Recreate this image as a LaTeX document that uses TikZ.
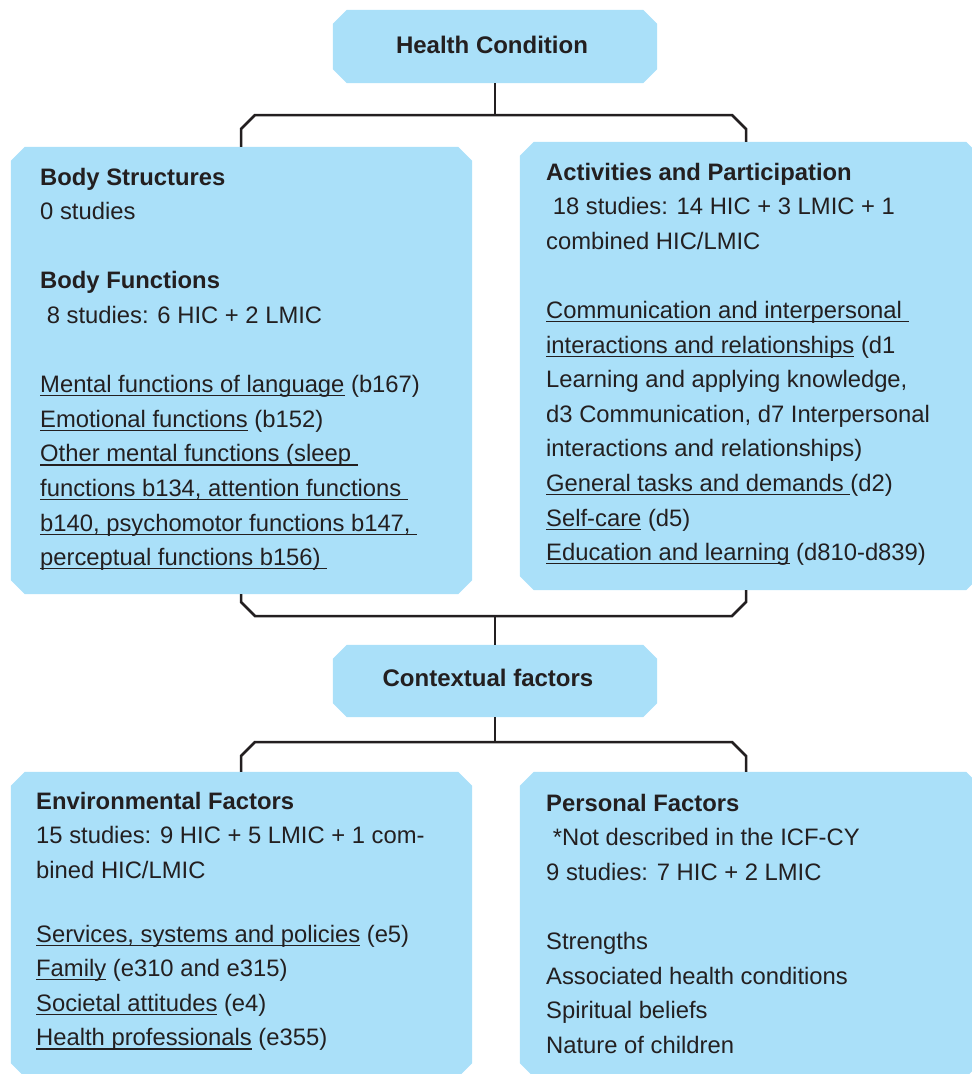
\documentclass[tikz,border=0pt]{standalone}
\usepackage{fontspec}
\setmainfont{Liberation Sans}
\definecolor{boxblue}{RGB}{170,224,249}
\definecolor{ink}{RGB}{35,31,32}
\newcommand\ulx[1]{\setbox0\hbox{#1}\rlap{\rule[-3.8pt]{\wd0}{1.3pt}}\box0\relax}
\newcommand\blk[1]{\vtop{\baselineskip=34.6pt\lineskiplimit=-50pt\lineskip=0pt\relax #1}}
\newcommand\Ln[1]{\hbox{#1}}
\newcommand\chfill[1]{\fill[boxblue] ([xshift=14pt]#1.north west) -- ([xshift=-14pt]#1.north east) -- ([yshift=-14pt]#1.north east) -- ([yshift=14pt]#1.south east) -- ([xshift=-14pt]#1.south east) -- ([xshift=14pt]#1.south west) -- ([yshift=14pt]#1.south west) -- ([yshift=-14pt]#1.north west) -- cycle;}
\begin{document}
\begin{tikzpicture}[x=1pt,y=-1pt,
  boxnode/.style={rectangle,draw=none,inner sep=0pt},
  conn/.style={draw=ink,line width=2.5pt,line join=miter},
  txt/.style={anchor=base west,inner sep=0pt,text=ink,font=\fontsize{23.8}{34.6}\selectfont},
  title/.style={inner sep=0pt,text=ink,font=\fontsize{24}{28}\selectfont\bfseries}]
\useasboundingbox (0,0) rectangle (972,1074);
\clip (0,0) rectangle (972,1074);
% boxes
\node[boxnode,minimum width=324pt,minimum height=73pt] (hc) at (495,46.5) {};
\node[boxnode,minimum width=461pt,minimum height=447pt] (bs) at (241.5,370.5) {};
\node[boxnode,minimum width=460pt,minimum height=448pt] (ap) at (750,366) {};
\node[boxnode,minimum width=324pt,minimum height=72pt] (cf) at (495,681) {};
\node[boxnode,minimum width=461pt,minimum height=305pt] (ef) at (241.5,924.5) {};
\node[boxnode,minimum width=460pt,minimum height=305pt] (pf) at (750,924.5) {};
\chfill{hc}\chfill{bs}\chfill{ap}\chfill{cf}\chfill{ef}\chfill{pf}
% titles
\node[title] (hct) at ([xshift=-3pt,yshift=1.5pt]hc.center) {Health Condition};
\node[title] (cft) at ([xshift=-7pt,yshift=3.5pt]cf.center) {Contextual factors};
% connectors
\coordinate (xl) at (241,0);
\coordinate (xr) at (746,0);
\coordinate (tj) at (495,115);
\coordinate (mj) at (495,616);
\coordinate (bj) at (495,742);
\draw[conn] (hc.south) -- (tj);
\draw[conn] (bs.north -| xl) -- (241,129) -- (255,115) -- (732,115) -- (746,129) -- (ap.north -| xr);
\draw[conn] (bs.south -| xl) -- (241,602) -- (255,616) -- (732,616) -- (746,602) -- (ap.south -| xr);
\draw[conn] (mj) -- (cf.north);
\draw[conn] (cf.south) -- (bj);
\draw[conn] (ef.north -| xl) -- (241,756) -- (255,742) -- (732,742) -- (746,756) -- (pf.north -| xr);
% texts
\node[txt] (bst) at (40,185) {\blk{%
\Ln{\bfseries Body Structures}%
\Ln{0 studies}%
\Ln{}%
\Ln{\bfseries Body Functions}%
\Ln{\ 8 studies: 6 HIC + 2 LMIC}%
\Ln{}%
\Ln{\ulx{Mental functions of language} (b167)}%
\Ln{\ulx{Emotional functions} (b152)}%
\Ln{\ulx{Other mental functions (sleep }}%
\Ln{\ulx{functions b134, attention functions }}%
\Ln{\ulx{b140, psychomotor functions b147, }}%
\Ln{\ulx{perceptual functions b156) }}}};
\node[txt] (apt) at (546,180) {\blk{%
\Ln{\bfseries Activities and Participation}%
\Ln{\ 18 studies: 14 HIC + 3 LMIC + 1}%
\Ln{combined HIC/LMIC}%
\Ln{}%
\Ln{\ulx{Communication and interpersonal }}%
\Ln{\ulx{interactions and relationships} (d1}%
\Ln{Learning and applying knowledge,}%
\Ln{d3 Communication, d7 Interpersonal}%
\Ln{interactions and relationships)}%
\Ln{\ulx{General tasks and demands }(d2)}%
\Ln{\ulx{Self-care} (d5)}%
\Ln{\ulx{Education and learning} (d810-d839)}}};
\node[txt] (eft) at (36,809) {\blk{%
\Ln{\bfseries Environmental Factors}%
\Ln{15 studies: 9 HIC + 5 LMIC + 1 com-}%
\Ln{bined HIC/LMIC}}};
\node[txt] (efl) at (36,942) {\blk{%
\Ln{\ulx{Services, systems and policies} (e5)}%
\Ln{\ulx{Family} (e310 and e315)}%
\Ln{\ulx{Societal attitudes} (e4)}%
\Ln{\ulx{Health professionals} (e355)}}};
\node[txt] (pft) at (546,811) {\blk{%
\Ln{\bfseries Personal Factors}%
\Ln{\ *Not described in the ICF-CY}%
\Ln{9 studies: 7 HIC + 2 LMIC}%
\Ln{}%
\Ln{Strengths}%
\Ln{Associated health conditions}%
\Ln{Spiritual beliefs}%
\Ln{Nature of children}}};
\end{tikzpicture}
\end{document}
